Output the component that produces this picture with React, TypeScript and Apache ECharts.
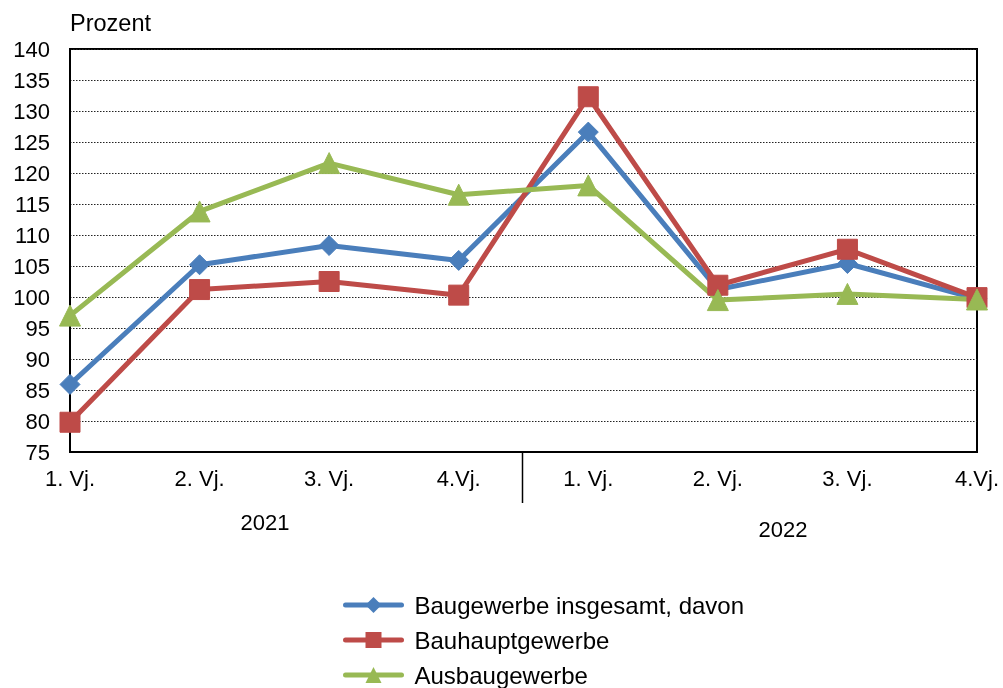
import React, { useEffect, useRef } from "react";
import * as echarts from "echarts";

const categories = ["1. Vj.", "2. Vj.", "3. Vj.", "4.Vj.", "1. Vj.", "2. Vj.", "3. Vj.", "4.Vj."];
const yearLabels = ["2021", "2022"];
const seriesNames = ["Baugewerbe insgesamt, davon", "Bauhauptgewerbe", "Ausbaugewerbe"];
const insgesamt = [85.9, 105.2, 108.3, 105.9, 126.6, 101.2, 105.4, 99.7];
const bauhaupt = [79.8, 101.2, 102.5, 100.3, 132.3, 101.9, 107.7, 99.9];
const ausbau = [97.0, 113.8, 121.6, 116.5, 118.0, 99.5, 100.5, 99.6];
const yTicks = { min: 75, max: 140, interval: 5 };

const FONT = "Liberation Sans, Arial, sans-serif";

export default function App() {
  const ref = useRef<HTMLDivElement>(null);
  useEffect(() => {
    if (!ref.current) return;
    const chart = echarts.init(ref.current, null, { renderer: "svg" });
    const mk = (name: string, data: number[], color: string, symbol: string, size: number) => ({
      name,
      type: "line",
      data,
      symbol,
      symbolSize: size,
      showAllSymbol: true,
      lineStyle: { color, width: 5 },
      itemStyle: { color, borderColor: color },
      emphasis: { disabled: true },
    });
    chart.setOption({
      animation: false,
      textStyle: { fontFamily: FONT },
      grid: {
        left: 70,
        right: 26,
        top: 49,
        bottom: 236,
        show: true,
        borderColor: "#000",
        borderWidth: 2,
        backgroundColor: "transparent",
      },
      xAxis: {
        type: "category",
        data: categories,
        boundaryGap: false,
        axisLine: { show: true, lineStyle: { color: "#000", width: 2 } },
        axisTick: { show: false },
        axisLabel: { color: "#000", fontSize: 22, fontFamily: FONT, margin: 15 },
        splitLine: { show: false },
      },
      yAxis: {
        type: "value",
        min: yTicks.min,
        max: yTicks.max,
        interval: yTicks.interval,
        axisLine: { show: true, lineStyle: { color: "#000", width: 2 } },
        axisTick: { show: false },
        axisLabel: { color: "#000", fontSize: 22, fontFamily: FONT, margin: 20 },
        splitLine: { show: true, lineStyle: { color: "#222", width: 1, type: [1.5, 1.5] } },
      },
      legend: {
        orient: "vertical",
        left: 343,
        top: 593,
        height: 200,
        padding: 0,
        itemWidth: 56,
        itemHeight: 20,
        itemGap: 11,
        data: seriesNames,
        lineStyle: { width: 5, cap: "round" },
        textStyle: { color: "#000", fontSize: 24, fontFamily: FONT, lineHeight: 24, padding: [0, 0, 0, 8] },
        selectedMode: false,
      },
      graphic: [
        {
          type: "text",
          x: 70,
          y: 23,
          style: { text: "Prozent", fill: "#000", fontSize: 23.5, fontFamily: FONT, align: "left", verticalAlign: "middle" },
        },
        {
          type: "text",
          x: 265,
          y: 522,
          style: { text: yearLabels[0], fill: "#000", fontSize: 22, fontFamily: FONT, align: "center", verticalAlign: "middle" },
        },
        {
          type: "text",
          x: 783,
          y: 529,
          style: { text: yearLabels[1], fill: "#000", fontSize: 22, fontFamily: FONT, align: "center", verticalAlign: "middle" },
        },
        {
          type: "line",
          shape: { x1: 522.5, y1: 452, x2: 522.5, y2: 503 },
          style: { stroke: "#000", lineWidth: 1.5 },
        },
      ],
      series: [
        mk(seriesNames[0], insgesamt, "#4A7EBB", "diamond", 20),
        mk(seriesNames[1], bauhaupt, "#BE4B48", "rect", 20),
        mk(seriesNames[2], ausbau, "#98B954", "triangle", 21),
      ],
    });
    return () => chart.dispose();
  }, []);
  return <div ref={ref} style={{ position: "fixed", left: 0, top: 0, width: 1003, height: 688 }} />;
}
